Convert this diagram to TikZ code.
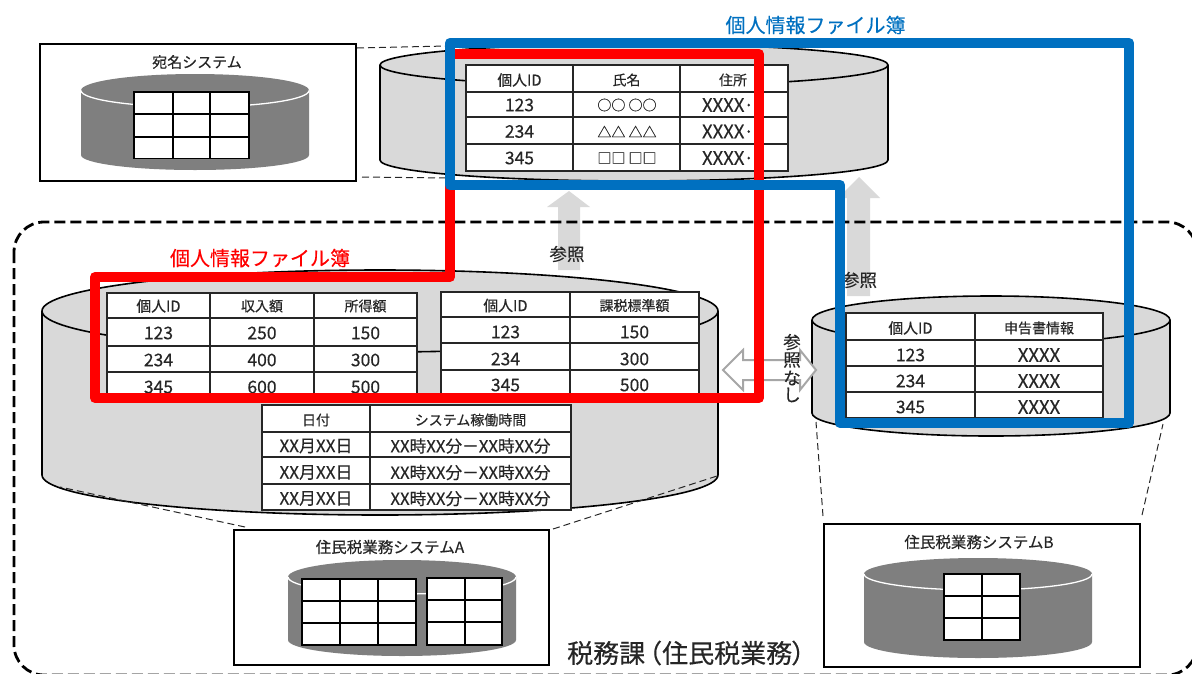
\documentclass[tikz,border=0pt]{standalone}
\usepackage{fontspec}
\setmainfont{Noto Sans CJK JP}[RawFeature={embolden=0.3}]
\definecolor{cylgray}{HTML}{D9D9D9}
\definecolor{icongray}{HTML}{7F7F7F}
\definecolor{blueline}{HTML}{0070C0}
\definecolor{ink}{HTML}{262626}
\newcounter{cn}
\newcommand{\fs}[1]{\fontsize{#1}{#1}\selectfont}
% cx, ytop, ybot, rx, rytop, rybot
\newcommand{\cylbig}[6]{%
  \path[cyl] (#1-#4,#2) arc[start angle=180,end angle=360,x radius=#4,y radius=#5]
    -- (#1+#4,#3) arc[start angle=0,end angle=180,x radius=#4,y radius=#6] -- cycle;
  \draw[cyl] (#1-#4,#2) arc[start angle=180,end angle=0,x radius=#4,y radius=#5];}
\newcommand{\cylicon}[6]{%
  \fill[icongray] (#1-#4,#2) arc[start angle=180,end angle=360,x radius=#4,y radius=#5]
    -- (#1+#4,#3) arc[start angle=0,end angle=180,x radius=#4,y radius=#6] -- cycle;
  \draw[white,line width=1.3pt] (#1-#4,#2) arc[start angle=180,end angle=0,x radius=#4,y radius=#5];}
% x0,y0,x1,y1,inner xs,inner ys
\newcommand{\tbl}[7][tblline]{%
  \fill[white] (#2,#3) rectangle (#4,#5);
  \foreach \q in {#6} {\draw[#1] (\q,#3) -- (\q,#5);}
  \foreach \q in {#7} {\draw[#1] (#2,\q) -- (#4,\q);}
  \draw[#1] (#2,#3) rectangle (#4,#5);}
\newcommand{\cel}[4]{\stepcounter{cn}\node[#1] (c\arabic{cn}) at (#2,#3) {#4};}
\begin{document}
\begin{tikzpicture}[x=1pt,y=-1pt,
  cyl/.style={fill=cylgray,draw=black,line width=1.6pt},
  tblline/.style={draw=ink,line width=1.3pt},
  icontbl/.style={draw=black,line width=1.3pt},
  hd/.style={inner sep=0pt,text=ink,font=\fs{14}},
  idh/.style={inner sep=0pt,text=ink,font=\fs{14.8}},
  num/.style={inner sep=0pt,text=ink,font=\fs{17.5}},
  xx/.style={inner sep=0pt,text=ink,font=\fs{18.5}},
  sym/.style={inner sep=0pt,text=ink,font=\fs{14}},
  tmd/.style={inner sep=0pt,text=ink,font=\fs{17}},
  tm/.style={inner sep=0pt,text=ink,font=\fs{16.7}},
  boxtitle/.style={inner sep=0pt,text=ink,font=\fs{15.5}},
  sysbox/.style={draw=black,fill=white,line width=2pt,inner sep=0pt,anchor=north west},
  conn/.style={draw=ink,line width=1pt,dash pattern=on 7pt off 4pt},
  sect/.style={draw=black,line width=2.8pt,dash pattern=on 11pt off 5pt,rounded corners=30pt},
  grayarrow/.style={fill=cylgray,draw=none},
  lab/.style={inner sep=0pt,text=ink,font=\fs{17.5}},
  filelab/.style={inner sep=0pt,font=\fs{20}},
  redbox/.style={draw=red,line width=10pt,line join=round},
  bluebox/.style={draw=blueline,line width=10.5pt,line join=round}]
\useasboundingbox (0,0) rectangle (1192,673);
% gray arrows
\fill[grayarrow] (569,191) -- (590,207) -- (580,207) -- (580,270) -- (558,270) -- (558,207) -- (547,207) -- cycle;
\fill[grayarrow] (859,177) -- (880,198) -- (870,198) -- (870,296) -- (847,296) -- (847,198) -- (838,198) -- cycle;
% section
\begin{scope}
\clip (0,0) rectangle (1192,673);
\draw[sect] (14,222) rectangle (1197,675);
\end{scope}
% cylinders
\cylbig{634}{65}{160}{254}{21}{21}
\cylbig{380}{311}{475}{338}{41}{40}
\cylbig{991}{320}{413}{179}{24}{23}
\coordinate (topL) at (447,46);
\coordinate (topB) at (447,178);
\coordinate (aL) at (60,487);
\coordinate (aR) at (717,476);
\coordinate (bL) at (816,422);
\coordinate (bR) at (1163,424);
% top table
\tbl{466}{65}{788}{171}{573,680}{92,117,144}
\cel{idh}{519.5}{80}{個人ID}\cel{hd}{626.5}{80}{氏名}\cel{hd}{733}{80}{住所}
\cel{num}{519.5}{105}{123}\cel{sym}{627}{105}{○○ ○○}\cel{xx}{728}{105}{XXXX·}
\cel{num}{519.5}{131.5}{234}\cel{sym}{627}{131.5}{△△ △△}\cel{xx}{728}{131.5}{XXXX·}
\cel{num}{519.5}{158}{345}\cel{sym}{627}{158}{□□ □□}\cel{xx}{728}{158}{XXXX·}
% table 1
\tbl{107}{293}{417}{398}{210,314}{318,346,372}
\cel{idh}{158.5}{306}{個人ID}\cel{hd}{262}{306}{収入額}\cel{hd}{365.5}{306}{所得額}
\cel{num}{158.5}{333}{123}\cel{num}{262}{333}{250}\cel{num}{365.5}{333}{150}
\cel{num}{158.5}{360}{234}\cel{num}{262}{360}{400}\cel{num}{365.5}{360}{300}
\cel{num}{158.5}{387}{345}\cel{num}{262}{387}{600}\cel{num}{365.5}{387}{500}
% table 2
\tbl{441}{292}{699}{398}{570}{317,343,370}
\cel{idh}{505.5}{305.5}{個人ID}\cel{hd}{634.5}{305.5}{課税標準額}
\cel{num}{505.5}{332}{123}\cel{num}{634.5}{332}{150}
\cel{num}{505.5}{359}{234}\cel{num}{634.5}{359}{300}
\cel{num}{505.5}{385}{345}\cel{num}{634.5}{385}{500}
% table 3
\tbl{262}{405}{571}{510}{370}{432,457,484}
\cel{hd}{316}{420}{日付}\cel{hd}{470.5}{420}{システム稼働時間}
\cel{tmd}{316}{446}{XX月XX日}\cel{tm}{470.5}{446}{XX時XX分－XX時XX分}
\cel{tmd}{316}{472.5}{XX月XX日}\cel{tm}{470.5}{472.5}{XX時XX分－XX時XX分}
\cel{tmd}{316}{498.5}{XX月XX日}\cel{tm}{470.5}{498.5}{XX時XX分－XX時XX分}
% table right
\tbl{846}{313}{1103}{418}{975}{340,366,392}
\cel{idh}{910.5}{328}{個人ID}\cel{hd}{1039}{328}{申告書情報}
\cel{num}{910.5}{355}{123}\cel{xx}{1039}{355}{XXXX}
\cel{num}{910.5}{381}{234}\cel{xx}{1039}{381}{XXXX}
\cel{num}{910.5}{407}{345}\cel{xx}{1039}{407}{XXXX}
% system boxes
\node[sysbox,minimum width=316pt,minimum height=137pt] (boxT) at (39,43) {};
\node[sysbox,minimum width=315pt,minimum height=135pt] (boxA) at (233,529) {};
\node[sysbox,minimum width=316pt,minimum height=143pt] (boxB) at (823,523) {};
\node[boxtitle,font=\fs{15}] (tT) at (197,62) {宛名システム};
\node[boxtitle] (tA) at (390,547) {住民税業務システムA};
\node[boxtitle] (tB) at (979,542) {住民税業務システムB};
% icons
\cylicon{195}{90.5}{155}{114}{16.5}{15}
\tbl[icontbl]{134}{92}{249}{158.5}{173,210}{114,137}
\cylicon{402}{577}{640}{114}{17}{16}
\tbl[icontbl]{302}{579}{416}{645}{340,378}{601,623}
\tbl[icontbl]{427}{578}{502}{645}{465}{600,622}
\cylicon{978}{574}{642}{114}{16}{16}
\tbl[icontbl]{944}{574}{1020}{640}{982}{596,618}
% dashed connectors
\draw[conn] (boxT.north east) ++(0,5) coordinate (tc1) -- (topL);
\draw[conn] (boxT.south east) ++(5,-5) coordinate (tc2) -- (topB);
\draw[conn] (boxA.north west) ++(12,-2) coordinate (ac1) -- (aL);
\draw[conn] (boxA.north east) ++(3,0) coordinate (ac2) -- (aR);
\draw[conn] (boxB.north west) ++(0,-7) coordinate (bc1) -- (bL);
\draw[conn] (boxB.north east) ++(1,-8) coordinate (bc2) -- (bR);
% labels under lines
\node[lab] (ref1) at (567,254) {参照};
\node[lab] (ref2) at (859.5,280) {参照};
% no-reference arrow
\draw[draw=black!35,fill=white,line width=2pt,line join=miter] (723,370) -- (743,350) -- (743,360) -- (800,360) -- (800,350) -- (816,370) -- (800,390) -- (800,380) -- (743,380) -- (743,390) -- cycle;
\node[lab] (ref3a) at (792,342) {参};
\node[lab] (ref3b) at (792,360) {照};
\node[lab] (ref3c) at (792,378) {な};
\node[lab] (ref3d) at (792,395) {し};
% file books
\draw[redbox] (95,277) -- (450,277) -- (450,54) -- (759,54) -- (759,398) -- (95,398) -- cycle;
\draw[bluebox] (450,43) -- (1129,43) -- (1129,423) -- (840,423) -- (840,185) -- (450,185) -- cycle;
\node[filelab,text=red] (fr) at (260,258) {個人情報ファイル簿};
\node[filelab,text=blueline] (fb) at (815.5,25) {個人情報ファイル簿};
\node[inner sep=0pt,text=ink,font=\fs{26},anchor=west] (sec) at (567,653) {税務課\hspace{-9pt}（住民税業務\hspace{-1pt}）};
\end{tikzpicture}
\end{document}
